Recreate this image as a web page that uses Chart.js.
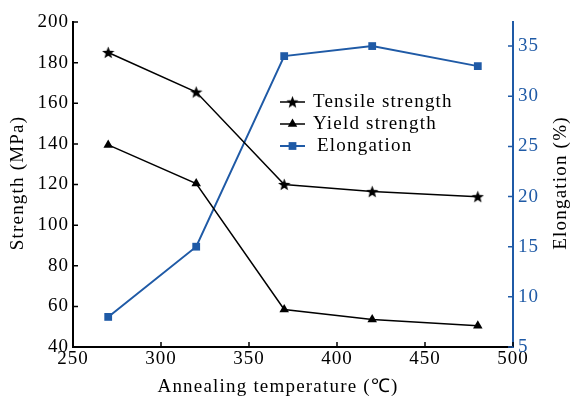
<!DOCTYPE html>
<html>
<head>
<meta charset="utf-8">
<script src="https://cdn.jsdelivr.net/npm/chart.js@4"></script>
<style>
  body { margin: 0; background: #fff; }
</style>
</head>
<body>
<canvas id="chart" width="573" height="397"></canvas>
<script>
// data
const temps = [270, 320, 370, 420, 480];
const tensile = [185, 165.5, 120, 116.5, 114];
const yieldStr = [139.5, 120.5, 58.5, 53.5, 50.5];
const elongation = [8, 15, 34, 35, 33];
const seriesNames = ["Tensile strength", "Yield strength", "Elongation"];

const BLUE = "#1f5aa6";
const FONT = "'Liberation Serif', 'Times New Roman', serif";

// filled five point star (Chart.js 'star' is only a line asterisk)
function makeStar(size, color) {
  const c = document.createElement("canvas");
  c.width = size; c.height = size;
  const g = c.getContext("2d");
  const cx = size / 2, cy = size / 2 + 0.5, R = size / 2, r = R * 0.42;
  g.beginPath();
  for (let i = 0; i < 10; i++) {
    const a = -Math.PI / 2 + i * Math.PI / 5;
    const rad = i % 2 ? r : R;
    g.lineTo(cx + rad * Math.cos(a), cy + rad * Math.sin(a));
  }
  g.closePath();
  g.fillStyle = color;
  g.fill();
  return c;
}
const star = makeStar(13, "#000");

function pts(ys) {
  return temps.map((t, i) => ({ x: t, y: ys[i] }));
}

// tick marks pointing into the plot + axis titles + legend inside
const extras = {
  id: "extras",
  beforeDraw(chart) {
    // the source font is set a bit looser than Liberation Serif
    chart.ctx.letterSpacing = "1px";
  },
  afterDraw(chart) {
    const ctx = chart.ctx;
    const { x, y, y2 } = chart.scales;
    const a = chart.chartArea;
    ctx.save();
    ctx.lineWidth = 1.5;
    ctx.strokeStyle = "#000";
    ctx.beginPath();
    x.ticks.forEach(t => {
      const px = x.getPixelForValue(t.value);
      ctx.moveTo(px, a.bottom); ctx.lineTo(px, a.bottom - 5);
    });
    y.ticks.forEach(t => {
      const py = y.getPixelForValue(t.value);
      ctx.moveTo(a.left, py); ctx.lineTo(a.left + 5, py);
    });
    ctx.stroke();
    ctx.strokeStyle = BLUE;
    ctx.beginPath();
    y2.ticks.forEach(t => {
      const py = y2.getPixelForValue(t.value);
      ctx.moveTo(a.right, py); ctx.lineTo(a.right - 5, py);
    });
    ctx.stroke();

    // axis titles
    ctx.letterSpacing = "1.2px";
    ctx.font = "19px " + FONT;
    ctx.textAlign = "center";
    ctx.textBaseline = "middle";
    ctx.fillStyle = "#000";
    ctx.fillText("Annealing temperature (\u2103)", 278, 387);
    ctx.save();
    ctx.translate(18, 183);
    ctx.rotate(-Math.PI / 2);
    ctx.fillText("Strength (MPa)", 0, 0);
    ctx.restore();
    ctx.save();
    ctx.translate(561, 183);
    ctx.rotate(-Math.PI / 2);
    ctx.fillText("Elongation (%)", 0, 0);
    ctx.restore();

    // legend
    const rows = [102, 124, 146];
    const textX = [313, 313, 317];
    chart.data.datasets.forEach((ds, i) => {
      const yy = rows[i];
      ctx.strokeStyle = ds.borderColor;
      ctx.lineWidth = ds.borderWidth;
      ctx.beginPath();
      ctx.moveTo(280, yy); ctx.lineTo(305, yy);
      ctx.stroke();
      ctx.fillStyle = ds.pointBackgroundColor;
      Chart.helpers.drawPoint(ctx, {
        pointStyle: ds.pointStyle, radius: ds.pointRadius, rotation: 0, borderWidth: 0
      }, 292.5, yy);
      ctx.fillStyle = "#000";
      ctx.textAlign = "left";
      ctx.font = "19px " + FONT;
      ctx.fillText(ds.label, textX[i], yy);
    });
    ctx.restore();
  }
};

new Chart(document.getElementById("chart"), {
  type: "line",
  data: {
    datasets: [
      {
        label: seriesNames[0],
        data: pts(tensile),
        yAxisID: "y",
        borderColor: "#000",
        borderWidth: 1.5,
        pointStyle: star,
        pointRadius: 6,
        pointBackgroundColor: "#000"
      },
      {
        label: seriesNames[1],
        data: pts(yieldStr),
        yAxisID: "y",
        borderColor: "#000",
        borderWidth: 1.5,
        pointStyle: "triangle",
        pointRadius: 5.5,
        pointBorderWidth: 0,
        pointBackgroundColor: "#000"
      },
      {
        label: seriesNames[2],
        data: pts(elongation),
        yAxisID: "y2",
        borderColor: BLUE,
        borderWidth: 2,
        pointStyle: "rect",
        pointRadius: 5.5,
        pointBorderWidth: 0,
        pointBackgroundColor: BLUE
      }
    ]
  },
  options: {
    responsive: false,
    animation: false,
    layout: { padding: { top: 22, left: 0, right: 0, bottom: 0 } },
    plugins: {
      legend: { display: false },
      tooltip: { enabled: false }
    },
    scales: {
      x: {
        type: "linear",
        min: 250,
        max: 500,
        afterFit(s) { s.height = 50; },
        ticks: { stepSize: 50, padding: 1, color: "#000", font: { family: FONT, size: 19 } },
        grid: { display: false, drawTicks: false },
        border: { color: "#000", width: 2 }
      },
      y: {
        position: "left",
        min: 40,
        max: 200,
        afterFit(s) { s.width = 73; },
        ticks: { stepSize: 20, padding: 4, color: "#000", font: { family: FONT, size: 19 } },
        grid: { display: false, drawTicks: false },
        border: { color: "#000", width: 2 }
      },
      y2: {
        position: "right",
        min: 5,
        max: 37.4,
        afterFit(s) { s.width = 60; },
        afterBuildTicks(s) { s.ticks = s.ticks.filter(t => t.value % 5 === 0); },
        ticks: { stepSize: 5, padding: 5, color: BLUE, font: { family: FONT, size: 19 } },
        grid: { display: false, drawTicks: false },
        border: { color: BLUE, width: 2 }
      }
    }
  },
  plugins: [extras]
});
</script>
</body>
</html>
